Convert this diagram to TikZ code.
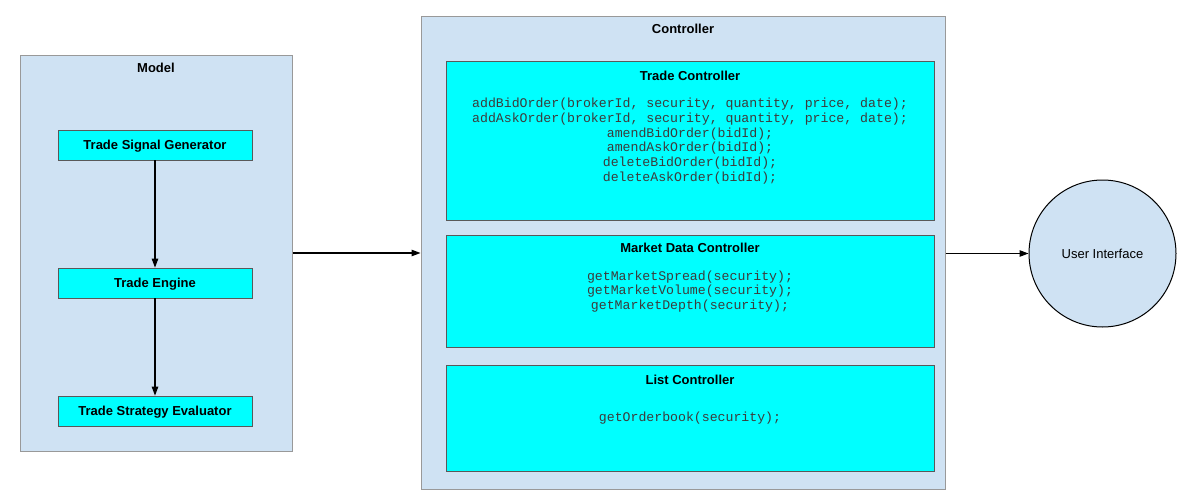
\documentclass[tikz,border=0pt]{standalone}
\usepackage{fontspec}
\setmainfont{Liberation Sans}
\newfontfamily\codefont{Liberation Mono}
\usetikzlibrary{arrows.meta}
\definecolor{panel}{HTML}{CFE2F3}
\definecolor{panelborder}{HTML}{999999}
\definecolor{boxfill}{HTML}{00FFFF}
\definecolor{boxborder}{HTML}{595959}
\definecolor{codecol}{HTML}{3C3C3C}
\tikzset{
  panelbox/.style={draw=panelborder, fill=panel, line width=1pt, inner sep=0pt},
  cyanbox/.style={draw=boxborder, fill=boxfill, line width=0.8pt, inner sep=0pt},
  labelbox/.style={cyanbox, minimum width=194pt, minimum height=30pt, font=\fontsize{13}{15}\selectfont\bfseries, text height=9.4pt, text depth=0pt},
  titletext/.style={font=\fontsize{13}{15}\selectfont\bfseries, inner sep=0pt, text height=9.4pt, text depth=0pt},
  codetext/.style={font=\codefont\fontsize{13.2}{14.8}\selectfont, text=codecol, align=center, inner sep=0pt},
  flow/.style={draw=black, line width=1.1pt, -{Triangle[length=9pt,width=6.5pt]}},
}
\begin{document}
\begin{tikzpicture}[x=1pt,y=-1pt]
\useasboundingbox[fill=white] (0,0) rectangle (1187,498);

% Model panel
\node[panelbox, minimum width=272pt, minimum height=396pt] (model) at (156,253) {};
\node[titletext] (modeltitle) at (156,68) {Model};
\node[labelbox] (tsg) at (155,145) {Trade Signal Generator};
\node[labelbox] (te) at (155,283) {Trade Engine};
\node[labelbox] (tse) at (155,411) {Trade Strategy Evaluator};
\draw[flow] (tsg.south) -- (te.north);
\draw[flow] (te.south) -- (tse.north);

% Controller panel
\node[panelbox, minimum width=524pt, minimum height=473pt] (controller) at (683,252.5) {};
\node[titletext] (ctitle) at (683,29) {Controller};

\node[cyanbox, minimum width=488pt, minimum height=159pt] (tc) at (690,140.5) {};
\node[titletext] (tctitle) at (690,76) {Trade Controller};
\node[codetext] (tccode) at (690,141) {addBidOrder(brokerId, security, quantity, price, date);\\
addAskOrder(brokerId, security, quantity, price, date);\\
amendBidOrder(bidId);\\
amendAskOrder(bidId);\\
deleteBidOrder(bidId);\\
deleteAskOrder(bidId);};

\node[cyanbox, minimum width=488pt, minimum height=112pt] (mdc) at (690,291) {};
\node[titletext] (mdctitle) at (690,248) {Market Data Controller};
\node[codetext] (mdccode) at (690,291.5) {getMarketSpread(security);\\
getMarketVolume(security);\\
getMarketDepth(security);};

\node[cyanbox, minimum width=488pt, minimum height=106pt] (lc) at (690,418) {};
\node[titletext] (lctitle) at (690,380) {List Controller};
\node[codetext] (lccode) at (690,418.5) {getOrderbook(security);};

% User interface
\node[circle, draw=black, fill=panel, line width=1pt, minimum size=147pt, inner sep=0pt, font=\fontsize{13}{15}\selectfont] (ui) at (1102.5,253.5) {User Interface};

% Connectors
\draw[flow] (model.east) -- (model.east -| controller.west);
\draw[flow] (controller.east |- ui.west) -- (ui.west);
\end{tikzpicture}
\end{document}
